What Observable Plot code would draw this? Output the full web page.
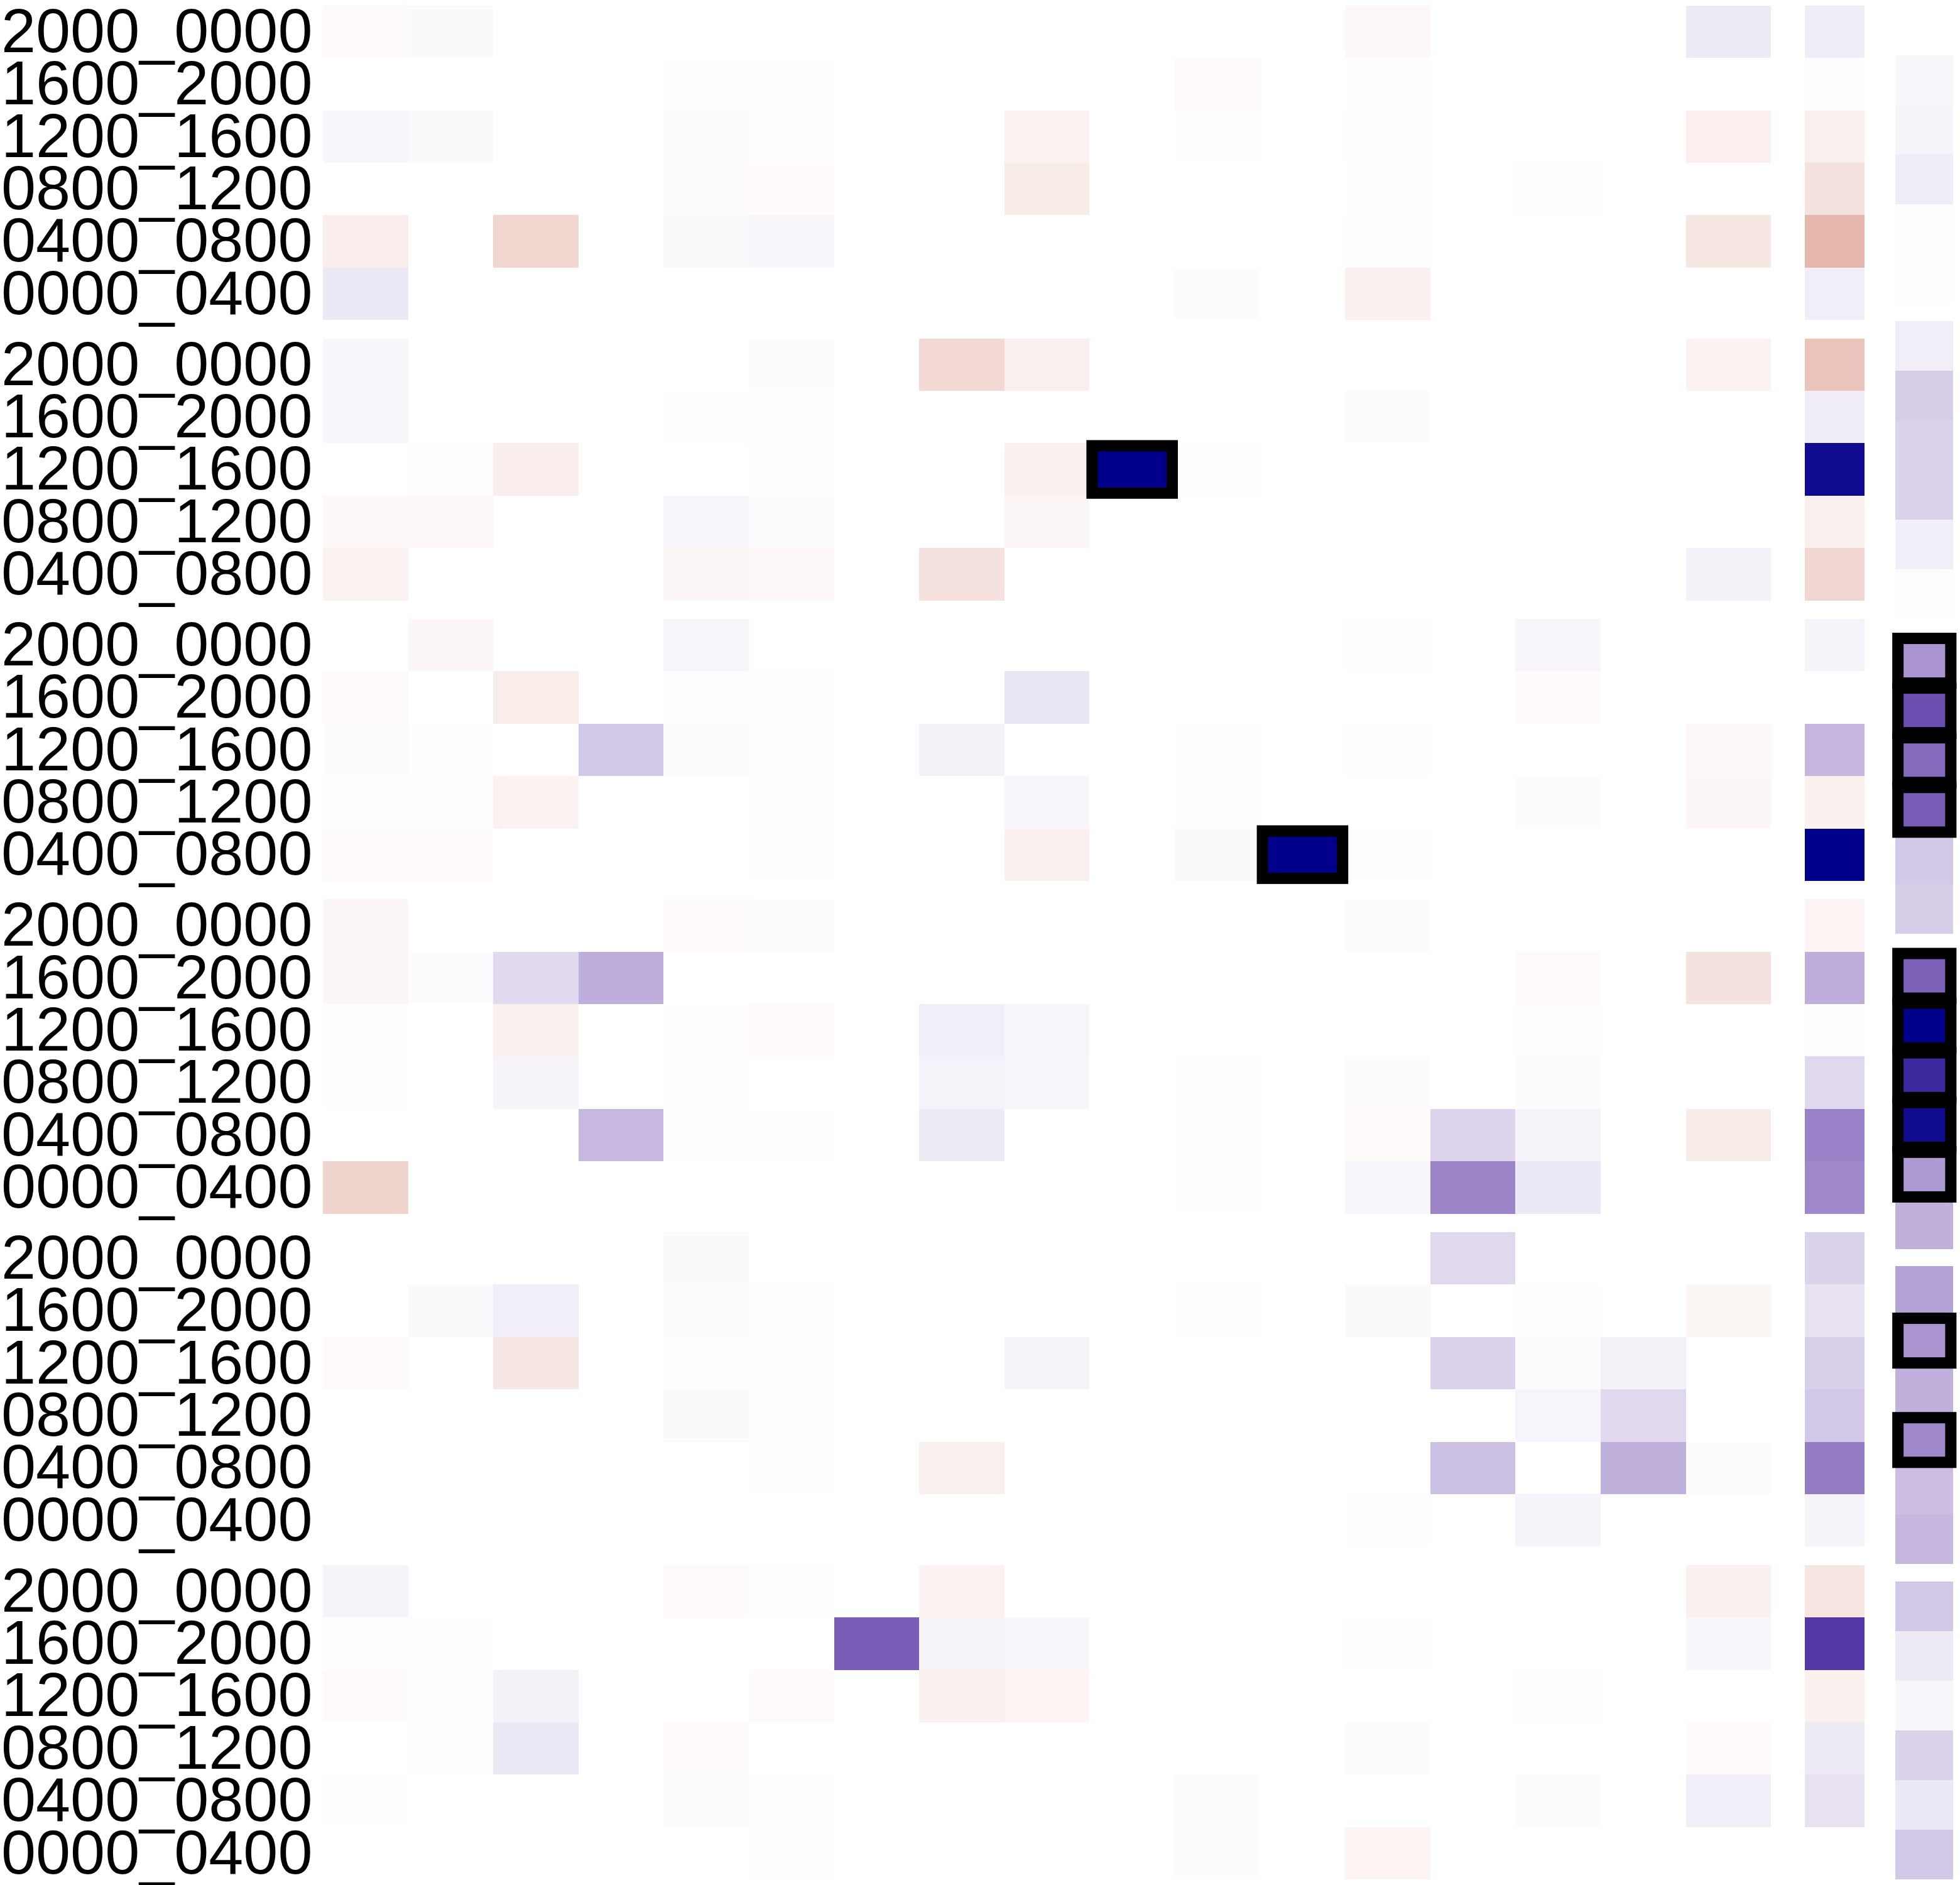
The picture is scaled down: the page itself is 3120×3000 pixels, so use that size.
<!DOCTYPE html>
<html>
<head>
<meta charset="utf-8">
<script src="https://cdn.jsdelivr.net/npm/d3@7"></script>
<script src="https://cdn.jsdelivr.net/npm/@observablehq/plot@0.6"></script>
<style>html,body{margin:0;padding:0;background:#fff;}</style>
</head>
<body>
<div id="chart"></div>
<script>
// ---------- data ----------
const rowsSix = ["2000_0000","1600_2000","1200_1600","0800_1200","0400_0800","0000_0400"];
const rowsFive = ["2000_0000","1600_2000","1200_1600","0800_1200","0400_0800"];
const groupRowLabels = [rowsSix, rowsFive, rowsFive, rowsSix, rowsSix, rowsSix];

// main grid: 17 columns per row
const group1 = [
  [-0.035, 0.025, 0, 0, 0, 0, 0, 0, 0, 0, 0, 0, -0.05, 0, 0, 0, 0.081],
  [0, 0, 0, 0, 0.006, 0.006, 0, 0, 0, 0, -0.035, 0, 0.005, 0, 0, 0, 0],
  [0.037, 0.024, 0, 0, 0.016, -0.02, 0, 0, -0.085, 0, -0.01, 0, -0.015, 0, 0, 0, -0.11],
  [0, 0, 0, 0, -0.025, -0.03, 0, 0, -0.134, 0, 0, 0, -0.01, 0, -0.02, 0, 0],
  [-0.12, 0, -0.29, 0, 0.024, 0.037, 0, 0, 0, 0, 0, 0, 0.012, 0, 0, 0, -0.17],
  [0.093, 0, 0, 0, 0, 0, 0, 0, 0, 0, 0.016, 0, -0.106, 0, 0, 0, 0]
];
const group2 = [
  [0.033, 0, 0, 0, 0, -0.025, 0, -0.268, -0.113, 0, 0, 0, 0, 0, 0, 0, -0.085],
  [0.033, 0, 0, 0, 0.006, 0.012, 0, 0, 0, 0, 0, 0, 0.016, 0, 0, 0, 0],
  [0, 0.012, -0.12, 0, 0, -0.01, 0, 0, -0.1, 1, 0.012, 0, 0, 0, 0, 0, 0],
  [-0.05, -0.05, 0, 0, 0.037, 0.016, 0, 0, -0.056, 0, 0, 0, 0, 0, 0, 0, 0],
  [-0.085, 0, 0, 0, -0.056, -0.05, 0, -0.21, 0, 0, 0, 0, 0, 0, 0, 0, 0.057]
];
const group3 = [
  [0, -0.056, 0, 0, 0.037, 0, 0, 0, 0, 0, 0, 0, 0.012, 0, 0.037, 0, 0],
  [-0.035, 0, -0.127, 0, 0.006, 0.012, 0, 0, 0.1, 0, 0, 0, 0, 0, -0.03, 0, 0],
  [0.016, 0.012, 0, 0.224, 0.016, -0.015, 0, 0.057, 0, 0, 0.012, 0, -0.012, 0, 0, 0, -0.05],
  [0.006, -0.01, -0.085, 0, 0, 0.006, 0, 0, 0.037, 0, 0.012, 0, 0, 0, 0.016, 0, -0.056],
  [-0.035, -0.035, 0, 0, 0, 0.012, 0, 0, -0.113, 0, 0.024, 1, -0.01, 0, 0, 0, 0]
];
const group4 = [
  [-0.056, 0, 0, 0, -0.035, 0.016, 0, 0, 0, 0, 0, 0, 0.014, 0, 0, 0, 0],
  [-0.056, 0.016, 0.15, 0.33, 0, 0, 0, 0, 0, 0, 0, 0, 0, 0, -0.035, 0, -0.204],
  [0.012, 0, -0.1, 0, -0.02, -0.035, 0, 0.069, 0.04, 0, 0, 0, 0, 0, -0.015, 0, 0],
  [0.006, 0, 0.045, 0, 0.006, 0, 0, 0.049, 0.037, 0, -0.01, 0, 0.016, 0, 0.016, 0, 0],
  [0, 0, 0, 0.289, 0.006, 0.006, 0, 0.081, 0, 0, -0.01, 0, -0.03, 0.17, 0.045, 0, -0.134],
  [-0.296, 0, 0, 0, 0, 0, 0, 0, 0, 0, 0.006, 0, 0.033, 0.5, 0.093, 0, 0]
];
const group5 = [
  [0, 0, 0, 0, 0.024, 0, 0, 0, 0, 0, 0, 0, 0, 0.155, 0, 0, 0],
  [0, 0.024, 0.069, 0, 0.016, -0.02, 0, 0, 0, 0, -0.012, 0, 0.024, 0, 0.012, 0, -0.065],
  [-0.03, 0, -0.17, 0, 0.006, 0.006, 0, 0, 0.045, 0, 0, 0, 0, 0.183, 0.016, 0.057, 0],
  [0, 0, 0, 0, 0.024, -0.01, 0, 0, 0, 0, 0, 0, 0, 0, 0.04, 0.155, 0],
  [0, 0, 0, 0, 0, -0.012, 0, -0.113, 0, 0, 0, 0, 0, 0.256, 0, 0.32, 0.014],
  [0, 0, 0, 0, 0, 0, 0, 0, 0, 0, 0, 0, 0.006, 0, 0.045, 0, 0]
];
const group6 = [
  [0.045, 0, 0, 0, -0.035, -0.012, 0, -0.085, 0, 0, 0, 0, 0, 0, 0, 0, -0.106],
  [0.006, 0.006, 0, 0, 0, 0, 0.636, 0.053, 0.037, 0, 0, 0, -0.015, 0, 0, 0, 0.033],
  [-0.03, 0.006, 0.057, 0, 0, -0.035, 0, -0.106, -0.07, 0, 0, 0, 0, 0, 0.012, 0, 0],
  [0, 0.006, 0.098, 0, -0.035, 0, 0, 0, 0, 0, 0, 0, -0.025, 0, 0, 0, -0.035],
  [-0.008, 0, 0, 0, 0.016, 0.006, 0, 0, 0, 0, 0.016, 0, 0, 0, 0.02, 0, 0.069],
  [0, 0, 0, 0, 0, 0.006, 0, 0, 0, 0, 0.016, 0, -0.07, 0, 0, 0, 0]
];
const mainGroups = [group1, group2, group3, group4, group5, group6];

// summary column (one value per main row)
const summaryValues = [
  [0.073, 0.012, -0.113, -0.204, -0.5, 0.069],
  [-0.415, 0.073, 0.955, -0.113, -0.28],
  [0.045, 0, 0.297, -0.1, 1],
  [-0.07, 0.33, 0.006, 0.155, 0.51, 0.48],
  [0.183, 0.118, 0.195, 0.228, 0.53, 0.045],
  [-0.176, 0.774, -0.1, 0.085, 0.122, 0]
];

// right-hand column: 6 groups x 6 rows
const rightValues = [
  [0, 0.033, 0.045, 0.077, 0.012, -0.02],
  [0.069, 0.203, 0.18, 0.18, 0.065, 0.012],
  [0.435, 0.689, 0.589, 0.636, 0.224, 0.203],
  [0.625, 1.0, 0.83, 0.95, 0.41, 0.32],
  [0.38, 0.43, 0.32, 0.48, 0.264, 0.293],
  [0.228, 0.081, 0.033, 0.18, 0.093, 0.224]
];

// highlighted cells: [group, row label, column]
const highlightMain = [[1, "1200_1600", 9], [2, "0400_0800", 11]];
// highlighted right-column cells: [group, row]
const highlightRight = [[2,0],[2,1],[2,2],[2,3],[3,0],[3,1],[3,2],[3,3],[3,4],[4,1],[4,3]];

// ---------- layout (in scale units) ----------
const nCols = 17;
const mainGap = 0.354;
const totalRows = groupRowLabels.reduce((s, g) => s + g.length, 0);
const totalY = totalRows + mainGap * (groupRowLabels.length - 1);
const rightGap = 0.324;
const rightH = (totalY - rightGap * 5) / 36;
const summaryX = [17.40, 18.10];
const rightX = [18.46, 19.14];

const cells = [];
const labels = [];
const boxes = [];
let offset = 0;
groupRowLabels.forEach((rows, gi) => {
  rows.forEach((lab, ri) => {
    const y1 = offset + ri, y2 = y1 + 1;
    labels.push({label: lab, y: y1 + 0.5});
    mainGroups[gi][ri].forEach((v, ci) => {
      cells.push({x1: ci, x2: ci + 1, y1, y2, v});
    });
    cells.push({x1: summaryX[0], x2: summaryX[1], y1, y2, v: summaryValues[gi][ri]});
    highlightMain.forEach(([hg, hl, hc]) => {
      if (hg === gi && hl === lab) boxes.push({x1: hc, x2: hc + 1, y1, y2});
    });
  });
  offset += rows.length + mainGap;
});
rightValues.forEach((vals, gi) => {
  vals.forEach((v, ri) => {
    const y1 = gi * (6 * rightH + rightGap) + ri * rightH, y2 = y1 + rightH;
    cells.push({x1: rightX[0], x2: rightX[1], y1, y2, v});
    if (highlightRight.some(([hg, hr]) => hg === gi && hr === ri)) boxes.push({x1: rightX[0], x2: rightX[1], y1, y2});
  });
});

const chart = Plot.plot({
  width: 3120,
  height: 3000,
  marginLeft: 514,
  marginRight: 6,
  marginTop: 9,
  marginBottom: 9,
  style: {background: "white"},
  x: {domain: [0, 19.174], axis: null},
  y: {domain: [0, totalY], reverse: true, axis: null},
  color: {
    type: "linear",
    domain: [-1, -0.5, 0, 0.5, 0.75, 1],
    range: ["#cc7766", "#e6b8ad", "#ffffff", "#9c84c9", "#5b3ea8", "#00008b"]
  },
  marks: [
    Plot.rect(cells, {x1: "x1", x2: "x2", y1: "y1", y2: "y2", fill: "v", shapeRendering: "crispEdges"}),
    Plot.rect(boxes, {x1: "x1", x2: "x2", y1: "y1", y2: "y2", fill: "none", stroke: "black", strokeWidth: 18, inset: 4}),
    Plot.text(labels, {x: 0, y: "y", text: "label", textAnchor: "end", dx: -17, fontSize: 99, fontFamily: "Liberation Sans, Arial, sans-serif", fill: "black"})
  ]
});
document.getElementById("chart").appendChild(chart);
</script>
</body>
</html>
